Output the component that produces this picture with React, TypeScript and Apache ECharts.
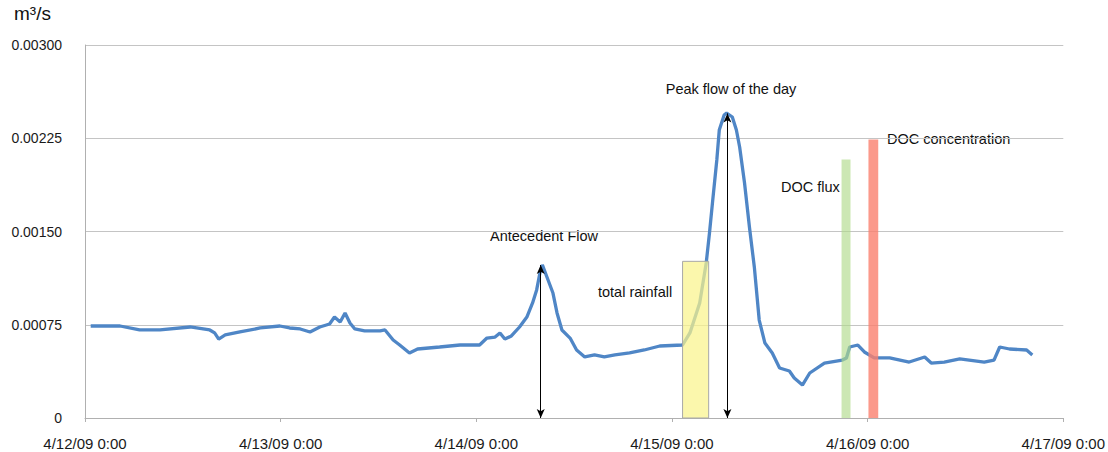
import React, { useEffect, useRef } from "react";
import * as echarts from "echarts";

// Hours since 4/12/09 0:00
const hours = [
  0.7, 4.3, 6.7, 9.2, 12.9, 15.3, 15.9, 16.4, 17.2, 19.0, 21.5, 23.9,
  25.1, 26.4, 27.6, 28.8, 30.0, 30.6, 31.3, 31.9, 32.5, 33.1, 34.3, 36.2,
  36.8, 37.8, 38.6, 39.8, 40.8, 43.5, 46.0, 48.4, 49.3, 50.3, 50.9, 51.5,
  52.3, 53.3, 54.2, 54.9, 55.4, 55.8, 56.1, 56.8, 57.4, 57.9, 58.5, 59.5,
  60.3, 61.3, 62.5, 63.7, 65.0, 66.8, 68.6, 70.5, 73.3, 74.2, 75.4, 76.2,
  76.6, 77.0, 77.5, 77.8, 78.4, 78.7, 79.4, 79.9, 80.3, 80.9, 81.5, 82.1,
  82.7, 83.4, 84.3, 85.2, 86.4, 87.0, 88.0, 88.9, 90.7, 92.9, 93.4, 93.8,
  94.8, 95.6, 96.8, 98.7, 101.1, 103.0, 103.8, 105.4, 107.3, 110.3, 111.5,
  112.2, 113.4, 115.5, 116.2,
];
// Flow (m3/s)
const flow = [
  0.00074, 0.00074, 0.000708, 0.000708, 0.000732, 0.000708, 0.000684, 0.000635, 0.000668, 0.000692, 0.000724, 0.00074,
  0.000724, 0.000716, 0.000692, 0.000732, 0.000756, 0.000812, 0.000772, 0.000845, 0.000764, 0.000716, 0.0007, 0.0007,
  0.000708, 0.000627, 0.000587, 0.000523, 0.000555, 0.000571, 0.000587, 0.000587, 0.000643, 0.000651, 0.000684, 0.000635,
  0.00066, 0.000732, 0.000812, 0.000925, 0.00103, 0.001166, 0.001231, 0.00111, 0.001005, 0.000845, 0.000708, 0.000643,
  0.000547, 0.000491, 0.000507, 0.000491, 0.000507, 0.000523, 0.000547, 0.000579, 0.000587, 0.000684, 0.000925, 0.001247,
  0.001488, 0.001753, 0.002075, 0.002316, 0.002437, 0.002453, 0.002421, 0.002316, 0.00218, 0.00189, 0.001536, 0.001215,
  0.000788, 0.000603, 0.000523, 0.000402, 0.000378, 0.000322, 0.000265, 0.000362, 0.000442, 0.000466, 0.000483, 0.000571,
  0.000587, 0.000531, 0.000483, 0.000483, 0.00045, 0.000491, 0.000442, 0.00045, 0.000475, 0.00045, 0.000466,
  0.000571, 0.000555, 0.000547, 0.000507,
];

const xTickLabels = ["4/12/09 0:00", "4/13/09 0:00", "4/14/09 0:00", "4/15/09 0:00", "4/16/09 0:00", "4/17/09 0:00"];
const yTickLabels = ["0", "0.00075", "0.00150", "0.00225", "0.00300"];

// Annotation boxes: start hour, end hour, top value
const boxStart = [73.3, 92.8, 96.1];
const boxEnd = [76.5, 93.9, 97.3];
const boxTop = [0.00126, 0.00208, 0.00224];

// Arrows: hour, top value
const arrowHour = [55.9, 78.8];
const arrowTop = [0.00123, 0.00245];

const boxFill = ["rgba(250,244,140,0.72)", "rgba(176,218,140,0.65)", "rgba(250,128,110,0.8)"];
const boxStroke = ["#a8a8a8", null, null];

export default function App() {
  const ref = useRef<HTMLDivElement>(null);
  useEffect(() => {
    const chart = echarts.init(ref.current!, null, { renderer: "svg" });
    const font = "'Liberation Sans', Arial, Helvetica, sans-serif";
    chart.setOption({
      animation: false,
      grid: { left: 85, right: 44, top: 45, bottom: 34, containLabel: false },
      xAxis: {
        type: "value",
        min: 0,
        max: 120,
        interval: 24,
        axisLine: { show: true, lineStyle: { color: "#b0b0b0", width: 1 } },
        axisTick: { show: true, length: 4, lineStyle: { color: "#b0b0b0" } },
        splitLine: { show: false },
        axisLabel: {
          margin: 18,
          color: "#1a1a1a",
          fontSize: 15,
          fontFamily: font,
          formatter: (v: number) => xTickLabels[Math.round(v / 24)] ?? "",
        },
      },
      yAxis: {
        type: "value",
        min: 0,
        max: 0.003,
        interval: 0.00075,
        axisLine: { show: true, lineStyle: { color: "#b0b0b0", width: 1 } },
        axisTick: { show: false },
        splitLine: { show: true, lineStyle: { color: "#c4c4c4", width: 1.2 } },
        axisLabel: {
          margin: 23,
          color: "#1a1a1a",
          fontSize: 14,
          fontFamily: font,
          formatter: (v: number) => yTickLabels[Math.round(v / 0.00075)] ?? "",
        },
      },
      series: [
        {
          type: "line",
          data: hours.map((h, i) => [h, flow[i]]),
          showSymbol: false,
          symbol: "none",
          lineStyle: { color: "#4f86c6", width: 3.3 },
          z: 2,
          markLine: {
            silent: true,
            symbol: ["arrow", "arrow"],
            symbolSize: [6, 9],
            label: { show: false },
            lineStyle: { color: "#000", width: 1, type: "solid" },
            data: arrowHour.map((h, i) => [
              { coord: [h, 0] },
              { coord: [h, arrowTop[i]] },
            ]),
          },
        },
        {
          type: "custom",
          z: 3,
          silent: true,
          encode: { x: [0, 1], y: 2 },
          data: boxStart.map((s, i) => [s, boxEnd[i], boxTop[i]]),
          renderItem: (params: any, api: any) => {
            const p0 = api.coord([api.value(0), 0]);
            const p1 = api.coord([api.value(1), api.value(2)]);
            const i = params.dataIndex;
            return {
              type: "rect",
              shape: { x: p0[0], y: p1[1], width: p1[0] - p0[0], height: p0[1] - p1[1] },
              style: {
                fill: boxFill[i],
                stroke: boxStroke[i] || "none",
                lineWidth: boxStroke[i] ? 1 : 0,
              },
            };
          },
        },
      ],
      graphic: [
        { type: "text", left: 14, top: 4, style: { text: "m³/s", fontSize: 19, fontFamily: font, fill: "#111" } },
        { type: "text", x: 544, y: 236, style: { text: "Antecedent Flow", fontSize: 14.5, fontFamily: font, fill: "#111", align: "center", verticalAlign: "middle" } },
        { type: "text", x: 598, y: 292, style: { text: "total rainfall", fontSize: 14.5, fontFamily: font, fill: "#111", align: "left", verticalAlign: "middle" } },
        { type: "text", x: 731, y: 89, style: { text: "Peak flow of the day", fontSize: 14.5, fontFamily: font, fill: "#111", align: "center", verticalAlign: "middle" } },
        { type: "text", x: 781, y: 187, style: { text: "DOC flux", fontSize: 14.5, fontFamily: font, fill: "#111", align: "left", verticalAlign: "middle" } },
        { type: "text", x: 887, y: 139, style: { text: "DOC concentration", fontSize: 14.5, fontFamily: font, fill: "#111", align: "left", verticalAlign: "middle" } },
      ],
    });
    return () => chart.dispose();
  }, []);
  return <div ref={ref} style={{ position: "fixed", left: 0, top: 0, width: 1108, height: 452, background: "#fff" }} />;
}
